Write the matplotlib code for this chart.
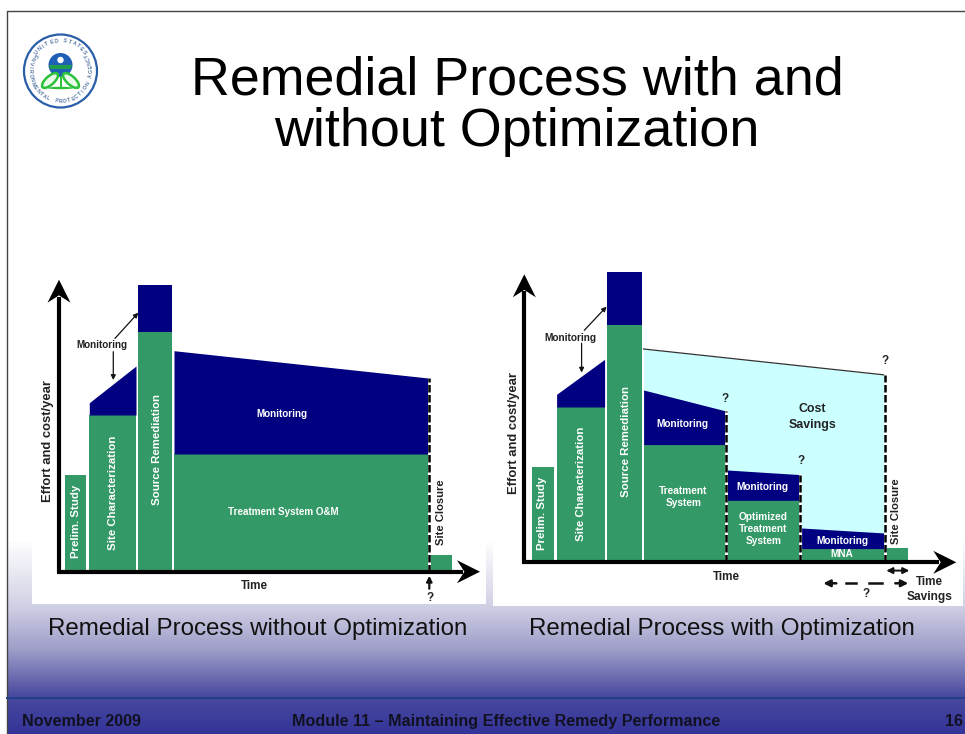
import matplotlib
matplotlib.use('Agg')
import matplotlib.pyplot as plt
from matplotlib.colors import to_rgb
from matplotlib.patches import Circle, Polygon, Ellipse
import numpy as np

plt.rcParams['font.family'] = ['Liberation Sans', 'DejaVu Sans']

W, H = 965, 734
GREEN = '#339966'
NAVY = '#000080'
PALE = '#ccffff'
INK = '#222222'

# slide background gradient
grad_y = [540, 604, 650, 695, 734]
grad_colors = ['#ffffff', '#d2d2e6', '#9c9cc8', '#4a4aa0', '#333399']

# left chart, values (time, effort)
left_bars_t0 = [6.3, 30.3, 79.3, 115]
left_bars_t1 = [27, 77, 113, 369.3]
left_green = [96.7, 156.7, 239.7, 117.7]
left_blue_start = [None, 169, 287, 221]
left_blue_end = [None, 205.7, 287, 193.7]
left_closure = (371.7, 393, 17)

# right chart
right_bars_t0 = [8, 32.3, 82.7, 119.3, 203, 277.3]
right_bars_t1 = [29.7, 80.3, 117.3, 201.7, 275.7, 360.3]
right_green = [95.7, 155.3, 237.7, 117.7, 62, 13.7]
right_blue_start = [None, 168, 290.7, 172.3, 92.3, 34.3]
right_blue_end = [None, 203, 290.7, 151.3, 87.7, 29.3]
right_closure = (362.3, 383.7, 14.3)
savings_t = [119.3, 361]
savings_top = [213.3, 187.3]
right_dash_t = [201.7, 276, 361]
right_dash_top = [151.3, 87.7, 187.3]

# y position is pixels from the top, x from the left
def make_panel(fig, x0, x1, y0, y1, ox, oy):
    ax = fig.add_axes([x0 / W, 1 - y1 / H, (x1 - x0) / W, (y1 - y0) / H])
    ax.set_xlim(x0 - ox, x1 - ox)
    ax.set_ylim(oy - y1, oy - y0)
    ax.set_facecolor('white')
    ax.set_xticks([])
    ax.set_yticks([])
    for s in ax.spines.values():
        s.set_visible(False)
    return ax

def draw_bars(ax, t0, t1, green, blue_start, blue_end):
    for a, b, g, bs, be in zip(t0, t1, green, blue_start, blue_end):
        ax.fill_between([a, b], [0, 0], [g, g], color=GREEN, lw=0, zorder=2)
        if bs is not None:
            ax.fill_between([a, b], [g, g], [bs, be], color=NAVY, lw=0, zorder=2)

def stealth(ax, x0, y0, x1, y1, lw=3, size=23):
    # axis arrow with the swept back head
    d = np.array([x1 - x0, y1 - y0], dtype=float)
    d /= np.hypot(*d)
    n = np.array([-d[1], d[0]])
    tip = np.array([x1, y1], dtype=float)
    back = tip - d * size
    ax.plot([x0, back[0] + d[0] * 6], [y0, back[1] + d[1] * 6], color='black', lw=lw, zorder=6, solid_capstyle='butt')
    pts = [tip, back + n * size * 0.5, tip - d * size * 0.68, back - n * size * 0.5]
    ax.add_patch(Polygon(pts, closed=True, color='black', lw=0, zorder=6))

def thin_arrow(ax, x0, y0, x1, y1, style='-|>', lw=0.9, ms=7):
    ax.annotate('', xy=(x1, y1), xytext=(x0, y0), zorder=7, annotation_clip=False,
                arrowprops=dict(arrowstyle=style, color='#111111', lw=lw, mutation_scale=ms,
                                shrinkA=0, shrinkB=0))

def dashed(ax, t, top):
    ax.plot([t, t], [0, top], color='white', lw=2, zorder=3)
    ax.plot([t, t], [0, top], color='black', lw=1.8, ls=(0, (3, 1)), zorder=4)

def label(ax, x, y, s, size=7.1, color='white', rotation=0, weight='bold', spacing=1.25):
    ax.text(x, y, s, fontsize=size, color=color, rotation=rotation, weight=weight,
            ha='center', va='center', linespacing=spacing, zorder=8)

def draw_seal(bg):
    cx, cy = 60.5, 71
    bg.add_patch(Circle((cx, cy), 36.5, fc='white', ec='#2a5ea8', lw=1.6, zorder=3))
    # globe and flower
    bg.add_patch(Circle((cx, cy - 6), 12, fc='#1f5fb5', ec='none', zorder=4))
    bg.add_patch(Circle((cx, cy - 11), 3.2, fc='white', ec='none', zorder=5))
    bg.add_patch(Polygon([(cx - 11.5, cy - 6), (cx + 11.5, cy - 6), (cx + 10, cy - 2), (cx - 10, cy - 2)],
                         closed=True, fc='#1e9e4a', ec='none', zorder=5))
    for sx in (-1, 1):
        bg.add_patch(Ellipse((cx + sx * 10.5, cy + 9.5), 20, 8.5, angle=sx * 42, fc='#eafbea', ec='#2cc13a', lw=1.8, zorder=4))
    bg.add_patch(Ellipse((cx, cy + 17), 26, 2.4, fc='#2cc13a', ec='none', zorder=5))
    bg.plot([cx, cx], [cy + 6, cy + 17], color='#2cc13a', lw=1.4, zorder=5)
    # lettering round the ring
    top = 'UNITED STATES'
    for i, ch in enumerate(top):
        th = np.radians(-52 + 104 * i / (len(top) - 1))
        bg.text(cx + 30.5 * np.sin(th), cy - 30.5 * np.cos(th), ch, fontsize=3.9, color='#5a78a8', weight='bold',
                rotation=-np.degrees(th), ha='center', va='center', zorder=5)
    bottom = 'ENVIRONMENTAL PROTECTION AGENCY'
    for i, ch in enumerate(bottom):
        th = np.radians(-122 + 244 * i / (len(bottom) - 1))
        bg.text(cx + 30.5 * np.sin(th), cy + 30.5 * np.cos(th), ch, fontsize=3.7, color='#5a78a8', weight='bold',
                rotation=np.degrees(th), ha='center', va='center', zorder=5)

fig = plt.figure(figsize=(W / 100, H / 100), dpi=100)
bg = fig.add_axes([0, 0, 1, 1])
bg.set_xlim(0, W)
bg.set_ylim(H, 0)
bg.axis('off')

# gradient behind everything below the charts
rows = np.arange(H)
stops = np.array([to_rgb(c) for c in grad_colors])
grad = np.stack([np.interp(rows, grad_y, stops[:, i]) for i in range(3)], axis=1)[:, None, :]
bg.imshow(grad, extent=[7, W, H, 0], aspect='auto', zorder=0)
bg.set_xlim(0, W)
bg.set_ylim(H, 0)

bg.plot([7, 7, W], [H, 10.5, 10.5], color='#444444', lw=1, zorder=1)
bg.plot([7, W], [698, 698], color='#1f3f86', lw=1.4, zorder=1)

draw_seal(bg)

bg.text(517, 106.5, 'Remedial Process with and\nwithout Optimization', fontsize=38.8, ha='center', va='center',
        linespacing=1.04, color='black')
bg.text(258, 629, 'Remedial Process without Optimization', fontsize=17.4, ha='center', va='center', color='#111111')
bg.text(722, 629, 'Remedial Process with Optimization', fontsize=17.4, ha='center', va='center', color='#111111')
bg.text(22, 722, 'November 2009', fontsize=11.6, weight='bold', ha='left', va='center', color='#111122')
bg.text(292, 721.5, 'Module 11 \u2013 Maintaining Effective Remedy Performance', fontsize=11.6, weight='bold',
        ha='left', va='center', color='#111122')
bg.text(963, 722, '16', fontsize=11.6, weight='bold', ha='right', va='center', color='#111122')

# left chart
ax = make_panel(fig, 32, 486, 260, 604, 59, 571.7)
draw_bars(ax, left_bars_t0, left_bars_t1, left_green, left_blue_start, left_blue_end)
ax.fill_between(left_closure[:2], [0, 0], [left_closure[2]] * 2, color=GREEN, lw=0, zorder=2)
dashed(ax, 369.7, 193.7)
stealth(ax, 0, -1, 0, 292)
stealth(ax, -2, 0, 421, 0)
label(ax, -11.3, 131, 'Effort and cost/year', 9.4, INK, 90)
label(ax, 16.7, 50, 'Prelim. Study', 8.2, rotation=90)
label(ax, 54.3, 79, 'Site Characterization', 8.2, rotation=90)
label(ax, 97.7, 122.7, 'Source Remediation', 8.2, rotation=90)
label(ax, 222.7, 158, 'Monitoring')
label(ax, 224, 59.3, 'Treatment System O&M')
label(ax, 382, 59.3, 'Site Closure', 8.1, INK, 90)
label(ax, 43, 226.7, 'Monitoring', 7.1, INK)
label(ax, 195, -14.3, 'Time', 8.4, INK)
label(ax, 371, -26.7, '?', 8.4, INK)
thin_arrow(ax, 56, 233.3, 79.3, 259)
thin_arrow(ax, 54.3, 220, 54.3, 191.7)
thin_arrow(ax, 370.3, -17, 370.3, -4, lw=1.6, ms=8)

# right chart
ax = make_panel(fig, 493, 963, 260, 606, 524.3, 562.3)
ax.fill_between(savings_t, [0, 0], savings_top, color=PALE, lw=0, zorder=1)
ax.plot(savings_t, savings_top, color='#333333', lw=0.9, zorder=2)
draw_bars(ax, right_bars_t0, right_bars_t1, right_green, right_blue_start, right_blue_end)
ax.fill_between(right_closure[:2], [0, 0], [right_closure[2]] * 2, color=GREEN, lw=0, zorder=2)
for t, top in zip(right_dash_t, right_dash_top):
    dashed(ax, t, top)
stealth(ax, 0, -1, 0, 288)
stealth(ax, -2, 0, 432, 0)
label(ax, -10, 129, 'Effort and cost/year', 9.4, INK, 90)
label(ax, 17.3, 49, 'Prelim. Study', 8.2, rotation=90)
label(ax, 56.3, 78, 'Site Characterization', 8.2, rotation=90)
label(ax, 101.7, 120.7, 'Source Remediation', 8.2, rotation=90)
label(ax, 45.7, 224.7, 'Monitoring', 7.3, INK)
label(ax, 158, 138, 'Monitoring', 7.3)
label(ax, 159, 65, 'Treatment\nSystem', 7.3)
label(ax, 238.3, 75, 'Monitoring', 7.3)
label(ax, 239, 33, 'Optimized\nTreatment\nSystem', 7.3)
label(ax, 318, 21.3, 'Monitoring', 7.3)
label(ax, 318, 8, 'MNA', 7.3)
label(ax, 288, 145, 'Cost\nSavings', 8.9, INK, spacing=1.4)
label(ax, 371.7, 50.7, 'Site Closure', 8.1, INK, 90)
label(ax, 201.7, -14.3, 'Time', 8.4, INK)
label(ax, 405, -19.3, 'Time', 8.4, INK)
label(ax, 405, -35, 'Savings', 8.6, INK)
label(ax, 201, 163.3, '?', 8.4, INK)
label(ax, 276.3, 101.3, '?', 8.4, INK)
label(ax, 360.7, 201.7, '?', 8.4, INK)
label(ax, 341.7, -32, '?', 8.4, INK)
thin_arrow(ax, 60, 232, 82.3, 255.7)
thin_arrow(ax, 57.3, 219, 57.3, 189.7)
thin_arrow(ax, 362, -8.3, 385, -8.3, '<|-|>', 1.4, 9)
thin_arrow(ax, 299, -21, 312, -21, '<|-', 1.8, 10)
thin_arrow(ax, 371, -21, 384, -21, '-|>', 1.8, 10)
ax.plot([322, 332], [-21, -21], color='#111111', lw=1.8, zorder=7)
ax.plot([345, 358], [-21, -21], color='#111111', lw=1.8, zorder=7)

fig.savefig('out.png', dpi=100)
